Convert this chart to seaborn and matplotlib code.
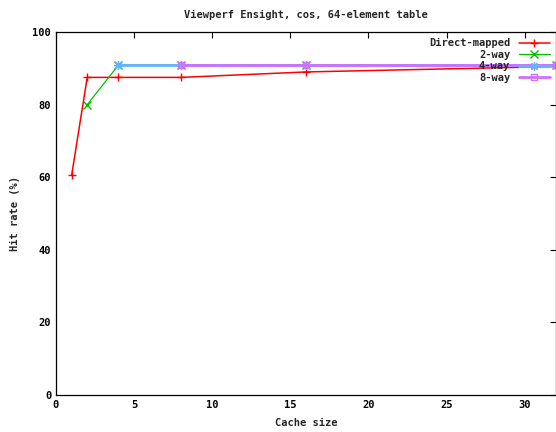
import pandas as pd
import matplotlib
matplotlib.use('Agg')
import matplotlib.pyplot as plt
import seaborn as sns

# Hit rate (%) vs cache size
direct_sizes = [1, 2, 4, 8, 16, 32]
direct_hits = [60.5, 87.5, 87.5, 87.5, 89.0, 90.5]

way2_sizes = [2, 4, 8, 16, 32]
way2_hits = [80.0, 90.9, 90.9, 90.9, 90.9]

way4_sizes = [4, 8, 16, 32]
way4_hits = [90.9, 90.9, 90.9, 90.9]

way8_sizes = [8, 16, 32]
way8_hits = [90.9, 90.9, 90.9]

sns.set_style('white')
plt.rcParams['font.family'] = ['DejaVu Sans Mono']
plt.rcParams['font.weight'] = 'bold'
plt.rcParams['font.size'] = 7.5

fig = plt.figure(figsize=(5.56, 4.32), dpi=100)
ax = fig.add_axes([0.1007, 0.0856, 0.8993, 0.8403])

series = [
    ('Direct-mapped', direct_sizes, direct_hits, '#ff0000', '+', 1.1),
    ('2-way', way2_sizes, way2_hits, '#00c000', 'x', 0.9),
    ('4-way', way4_sizes, way4_hits, '#66b2ff', (8, 2, 0), 2.0),
    ('8-way', way8_sizes, way8_hits, '#d070ff', 's', 2.0),
]

for name, xs, ys, color, marker, lw in series:
    df = pd.DataFrame({'size': xs, 'hit': ys})
    ms = 4.5 if marker == 's' else 6
    sns.lineplot(data=df, x='size', y='hit', ax=ax, color=color, marker=marker,
                 markersize=ms, markeredgewidth=1.0, markerfacecolor='none',
                 markeredgecolor=color, linewidth=lw, label=name, clip_on=False)

ax.set_xlim(0, 32)
ax.set_ylim(0, 100)
ax.set_xticks([0, 5, 10, 15, 20, 25, 30])
ax.set_yticks([0, 20, 40, 60, 80, 100])
ax.tick_params(direction='in', length=4, width=0.8, top=True, right=True,
               labelsize=7.5, colors='black')
for s in ax.spines.values():
    s.set_color('black')
    s.set_linewidth(0.9)

ax.set_title('Viewperf Ensight, cos, 64-element table', fontsize=7.5,
             fontweight='bold', pad=10)
ax.set_xlabel('Cache size', fontsize=7.5, fontweight='bold', labelpad=5.5)
ax.set_ylabel('Hit rate (%)', fontsize=7.5, fontweight='bold', labelpad=9)

leg = ax.legend(loc='upper right', frameon=False, markerfirst=False,
                fontsize=7.5, handlelength=3.0, labelspacing=0.15,
                borderaxespad=0.2)
for t in leg.get_texts():
    t.set_ha('right')
leg._legend_box.align = 'right'

fig.savefig('out.png', dpi=100)
